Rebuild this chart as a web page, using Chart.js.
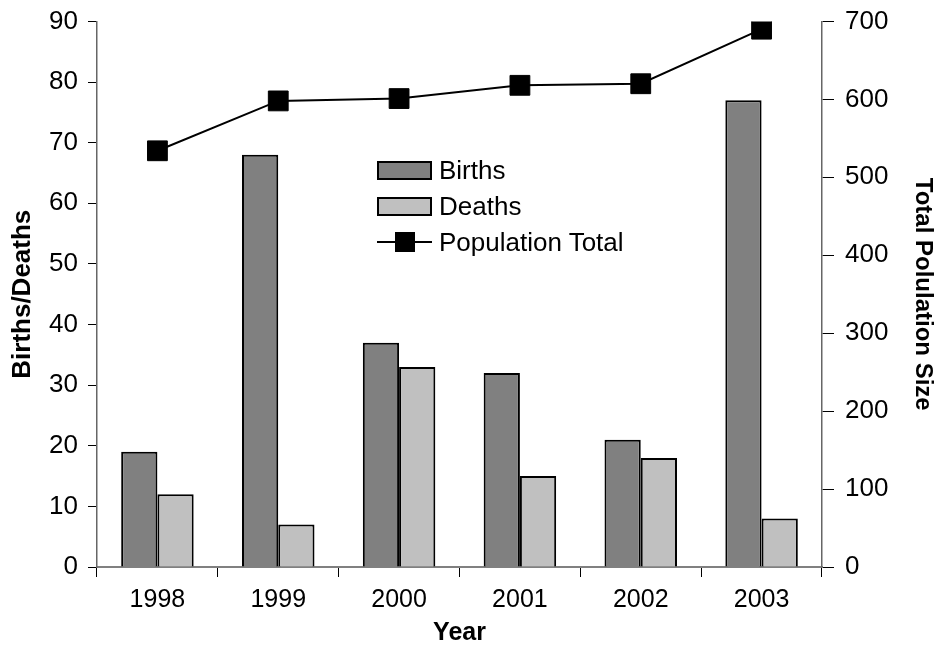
<!DOCTYPE html>
<html>
<head>
<meta charset="utf-8">
<script src="https://cdn.jsdelivr.net/npm/chart.js@4.4.1/dist/chart.umd.min.js"></script>
<style>
  body { margin: 0; background: #fff; }
  #wrap { position: relative; width: 940px; height: 656px; }
  #legend { position: absolute; left: 377px; top: 152px; font-family: "Liberation Sans", Arial, sans-serif; font-size: 26px; color: #000; }
  .item { display: flex; align-items: center; height: 36px; }
  .swatch { width: 51px; height: 15px; border: 2px solid #000; margin-right: 7px; }
  .lineKey { position: relative; width: 55px; height: 20px; margin-right: 7px; }
  .lineKey .ln { position: absolute; left: 0; right: 0; top: 9px; height: 2px; background: #000; }
  .lineKey .mk { position: absolute; left: 18px; top: 0; width: 20px; height: 20px; background: #000; }
</style>
</head>
<body>
<div id="wrap">
  <canvas id="chart" width="940" height="656"></canvas>
  <div id="legend"></div>
</div>
<script>
'use strict';

const years = ['1998', '1999', '2000', '2001', '2002', '2003']
const births = [19, 68, 37, 32, 21, 77]
const deaths = [12, 7, 33, 15, 18, 8]
const populationTotal = [534, 598, 601, 618, 620, 690]
const leftMax = 90
const rightMax = 700

const font = 'Liberation Sans, Arial, sans-serif'

function renderChart() {
    const data = {
        labels: years,
        datasets: [
            {
                type: 'line',
                label: 'Population Total',
                data: populationTotal,
                yAxisID: 'y1',
                borderColor: '#000',
                borderWidth: 2,
                backgroundColor: '#000',
                pointStyle: 'rect',
                pointRadius: 14,
                pointBorderWidth: 1,
                tension: 0,
                order: 0,
            },
            {
                label: 'Births',
                data: births,
                yAxisID: 'y',
                backgroundColor: '#808080',
                borderColor: '#000',
                borderWidth: 2,
                order: 1,
            },
            {
                label: 'Deaths',
                data: deaths,
                yAxisID: 'y',
                backgroundColor: '#c0c0c0',
                borderColor: '#000',
                borderWidth: 2,
                order: 1,
            },
        ]
    }

    const config = {
        type: 'bar',
        data: data,
        options: {
            responsive: false,
            animation: false,
            devicePixelRatio: 1,
            layout: { padding: { top: 14 } },
            datasets: { bar: { categoryPercentage: 0.6, barPercentage: 1.0 } },
            plugins: { legend: { display: false }, tooltip: { enabled: false } },
            scales: {
                x: {
                    grid: { drawOnChartArea: false, tickLength: 10, color: '#000', offset: true },
                    border: { color: '#808080', width: 2 },
                    ticks: { color: '#000', font: { family: font, size: 25 }, padding: 8, maxRotation: 0 },
                    title: { display: true, text: 'Year', color: '#000', font: { family: font, size: 25, weight: 'bold' }, padding: { top: 0, bottom: 8 } },
                    afterFit: (s) => { s.height = 89 },
                },
                y: {
                    position: 'left',
                    min: 0,
                    max: leftMax,
                    grid: { drawOnChartArea: false, tickLength: 9, color: '#000' },
                    border: { color: '#666', width: 1.5 },
                    ticks: { stepSize: 10, color: '#000', font: { family: font, size: 26, lineHeight: 0.8 }, padding: 10 },
                    title: { display: true, text: 'Births/Deaths', color: '#000', font: { family: font, size: 26, weight: 'bold' }, padding: { top: 7, bottom: 0 } },
                    afterFit: (s) => { s.width = 97 },
                },
                y1: {
                    position: 'right',
                    min: 0,
                    max: rightMax,
                    grid: { drawOnChartArea: false, tickLength: 12, color: '#000' },
                    border: { color: '#666', width: 1.5 },
                    ticks: { stepSize: 100, color: '#000', font: { family: font, size: 26, lineHeight: 0.8 }, padding: 11 },
                    title: { display: true, text: 'Total Polulation Size', color: '#000', font: { family: font, size: 24, weight: 'bold' }, padding: { top: 3, bottom: 0 } },
                    afterFit: (s) => { s.width = 118 },
                },
            },
        },
    }

    const resultChart = new Chart(document.getElementById('chart'), config)

    // legend drawn as html, order as in the picture
    const legend = document.getElementById('legend')
    const order = [1, 2, 0]
    for (const i of order) {
        const ds = resultChart.data.datasets[i]
        const row = document.createElement('div')
        row.className = 'item'
        let key
        if (ds.type === 'line') {
            key = document.createElement('div')
            key.className = 'lineKey'
            key.innerHTML = '<div class="ln"></div><div class="mk"></div>'
        } else {
            key = document.createElement('div')
            key.className = 'swatch'
            key.style.background = ds.backgroundColor
        }
        const txt = document.createElement('span')
        txt.textContent = ds.label
        row.appendChild(key)
        row.appendChild(txt)
        legend.appendChild(row)
    }
}

renderChart();
</script>
</body>
</html>
